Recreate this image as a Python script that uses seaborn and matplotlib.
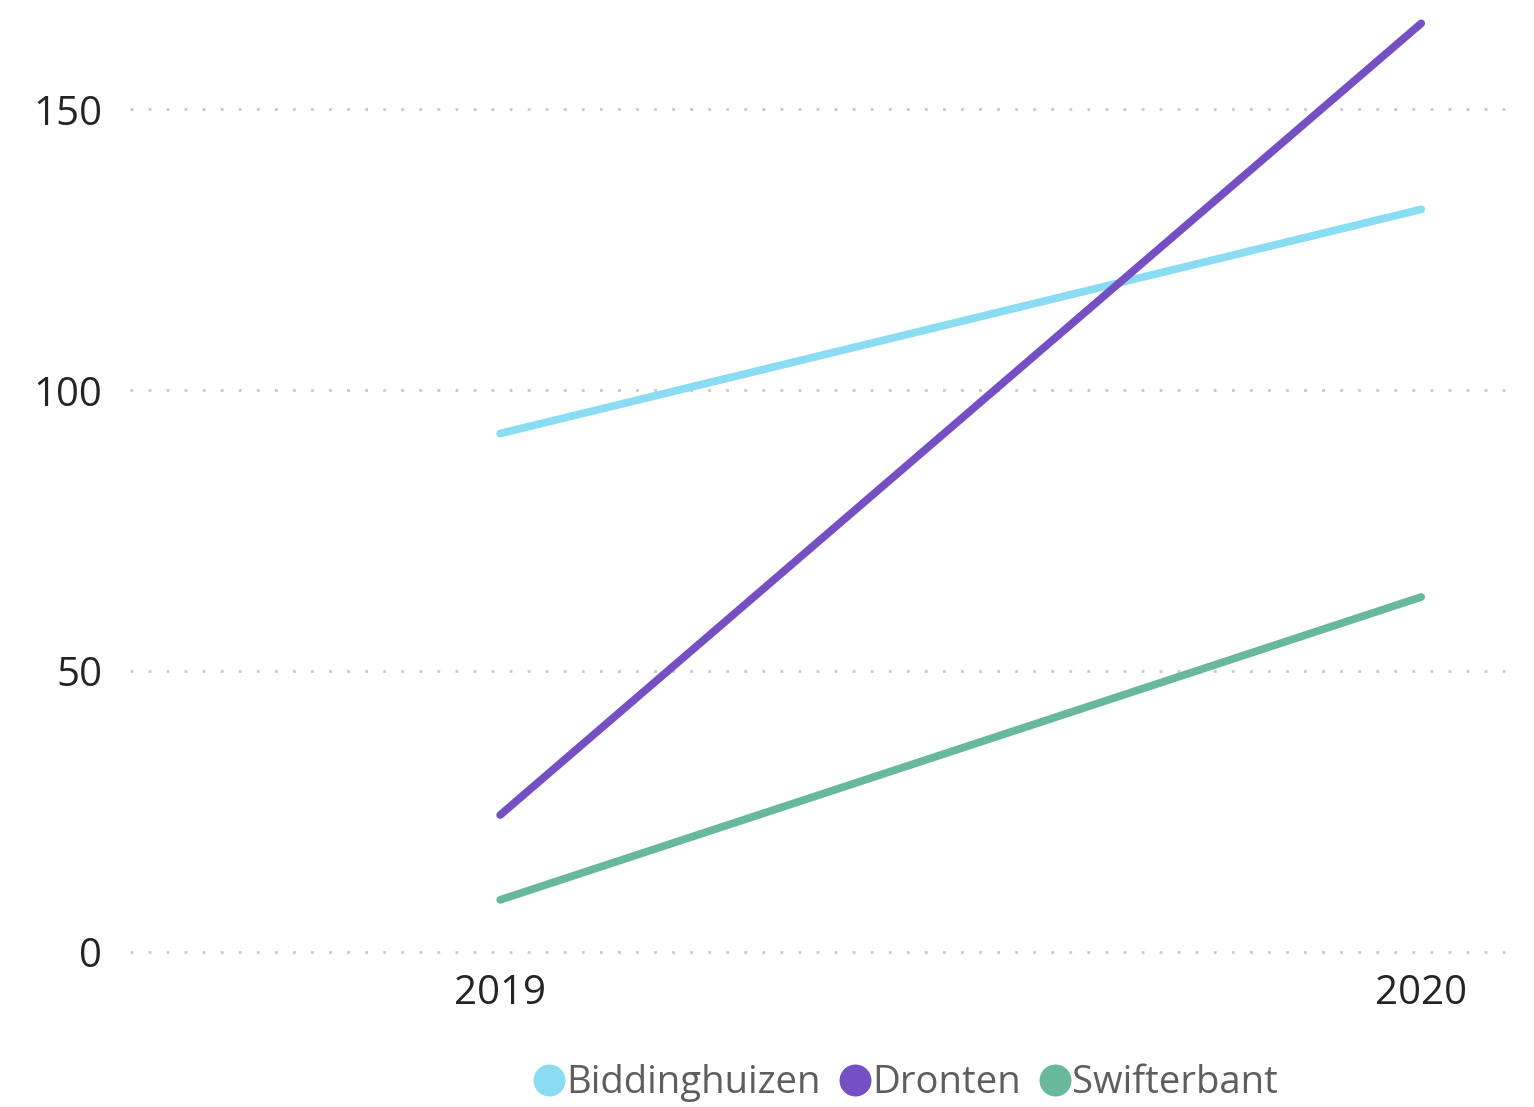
import numpy as np
import pandas as pd
import matplotlib
matplotlib.use("Agg")
import matplotlib.pyplot as plt
import seaborn as sns
from matplotlib.lines import Line2D

years = [2019, 2020]
places = ["Biddinghuizen", "Dronten", "Swifterbant"]
biddinghuizen = [92.3, 132.2]
dronten = [24.4, 165.3]
swifterbant = [9.3, 63.2]
colors = ["#8ADCF3", "#7450C4", "#68B89B"]

df = pd.DataFrame({
    "year": years * 3,
    "place": [p for p in places for _ in years],
    "value": biddinghuizen + dronten + swifterbant,
})

sns.set_theme(style="white")
plt.rcParams['font.family'] = ['Open Sans', 'DejaVu Sans']

fig = plt.figure(figsize=(15.34, 11.07), dpi=100)
ax = fig.add_axes([0.0847, 0.1247, 0.906, 0.875])

ax.set_axisbelow(True)
for yv in [0, 50, 100, 150]:
    ax.axhline(yv, color="#C8C8C8", lw=2, linestyle=(0, (1, 5.5)), zorder=0)

sns.lineplot(data=df, x="year", y="value", hue="place", palette=colors,
             linewidth=5.6, ax=ax, legend=False, solid_capstyle="round")

ax.set_xlim(2019 - 0.402, 2020 + 0.107)
ax.set_ylim(-3, 169.4)
ax.set_xticks(years)
ax.set_xticklabels([str(y) for y in years])
ax.set_yticks([0, 50, 100, 150])
ax.set_yticklabels(["0", "50", "100", "150"])
ax.tick_params(axis="both", length=0, labelsize=29, labelcolor="#252423")
ax.tick_params(axis="y", pad=20)
ax.tick_params(axis="x", pad=3)
for s in ax.spines.values():
    s.set_visible(False)
ax.set_xlabel("")
ax.set_ylabel("")

handles = [Line2D([0], [0], marker="o", linestyle="", markersize=22,
                  markerfacecolor=c, markeredgecolor=c) for c in colors]
leg = fig.legend(handles, places, loc="center", bbox_to_anchor=(0.588, 0.0217),
                 ncol=3, frameon=False, fontsize=27.5, handletextpad=-0.15,
                 columnspacing=0.3, handlelength=1.2)
for t in leg.get_texts():
    t.set_color("#605E5C")

fig.savefig("out.png", dpi=100)
